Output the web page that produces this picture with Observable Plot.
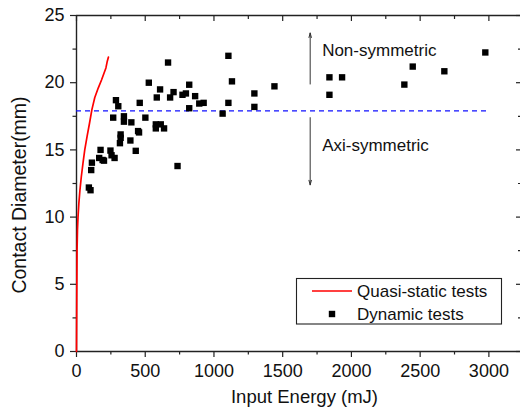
<!DOCTYPE html>
<html><head><meta charset="utf-8">
<script src="https://cdn.jsdelivr.net/npm/d3@7"></script>
<script src="https://cdn.jsdelivr.net/npm/@observablehq/plot@0.6"></script>
<style>
body{margin:0;background:#fff;}
svg{font-family:"Liberation Sans",Arial,sans-serif;}
</style>
</head><body><div id="chart"></div>
<script>
// Quasi-static test curve (Input Energy mJ, Contact Diameter mm)
const quasiEnergy   = [0, 2, 4, 7, 11, 17, 25, 35, 47, 60, 77, 95, 112, 133, 158, 182, 200, 214, 224, 232];
const quasiDiameter = [0, 4, 7.5, 9, 10, 11, 12, 13, 14, 15, 16, 17, 18, 18.9, 19.6, 20.2, 20.7, 21.1, 21.6, 21.9];

// Dynamic tests (scatter)
const dynEnergy = [90, 102, 107, 112, 175, 165, 190, 200, 247, 255, 277, 267, 287, 304, 321, 321, 316, 345, 345, 399,
  392, 431, 448, 455, 460, 501, 526, 608, 584, 577, 577, 613, 637, 666, 681, 706, 735, 771, 796, 820,
  820, 863, 893, 925, 1063, 1105, 1105, 1131, 1294, 1294, 1440, 1840, 1932, 1840, 2385, 2446, 2676, 2974];
const dynDiameter = [12.2, 12.0, 13.5, 14.05, 15.0, 14.4, 14.25, 14.2, 14.95, 14.6, 14.4, 17.4, 18.7, 18.25, 16.15, 15.9, 15.5, 17.5, 17.1, 17.05,
  15.7, 14.93, 16.4, 16.3, 18.5, 17.4, 20.0, 19.5, 18.9, 16.9, 16.6, 16.9, 16.6, 21.5, 18.9, 19.3, 13.8, 19.1, 19.2, 19.85,
  18.1, 19.0, 18.45, 18.5, 17.7, 22.0, 18.5, 20.1, 19.2, 18.2, 19.73, 20.4, 20.4, 19.1, 19.86, 21.2, 20.85, 22.25];

const thresholdDiameter = 17.9;
const thresholdEnergyEnd = 3000;

const xTicks = [0, 500, 1000, 1500, 2000, 2500, 3000];
const xMinorTicks = [250, 750, 1250, 1750, 2250, 2750];
const yTicks = [0, 5, 10, 15, 20, 25];
const yMinorTicks = [2.5, 7.5, 12.5, 17.5, 22.5];

const seriesNames = ["Quasi-static tests", "Dynamic tests"];
const regionLabels = ["Non-symmetric", "Axi-symmetric"];
const xTitle = "Input Energy (mJ)";
const yTitle = "Contact Diameter(mm)";

const quasi = quasiEnergy.map((e, i) => ({e, d: quasiDiameter[i]}));
const dyn = dynEnergy.map((e, i) => ({e, d: dynDiameter[i]}));

const ink = "#222";
const FS = 17;
const TFS = 18;
const noLabel = () => "";

const chart = Plot.plot({
  width: 520, height: 417,
  marginLeft: 76, marginRight: 0, marginTop: 15, marginBottom: 66,
  style: {fontFamily: "Liberation Sans, Arial, sans-serif", fontSize: FS + "px", color: "#111", background: "white", overflow: "visible"},
  x: {domain: [0, 3230]},
  y: {domain: [0, 25]},
  marks: [
    // axes
    Plot.axisX(xTicks, {anchor: "bottom", tickSize: 6, tickPadding: 7, label: null, tickFormat: d => String(d), stroke: ink, strokeWidth: 1.2, fontSize: TFS}),
    Plot.axisX(xMinorTicks, {anchor: "bottom", tickSize: 3.5, label: null, tickFormat: noLabel, stroke: ink, strokeWidth: 1.2}),
    Plot.axisX(xTicks, {anchor: "top", tickSize: -5, label: null, tickFormat: noLabel, stroke: ink, strokeWidth: 1.2}),
    Plot.axisX(xMinorTicks, {anchor: "top", tickSize: -3, label: null, tickFormat: noLabel, stroke: ink, strokeWidth: 1.2}),
    Plot.axisY(yTicks, {anchor: "left", tickSize: 6, tickPadding: 6, label: null, tickFormat: d => String(d), stroke: ink, strokeWidth: 1.2, fontSize: TFS}),
    Plot.axisY(yMinorTicks, {anchor: "left", tickSize: 3.5, label: null, tickFormat: noLabel, stroke: ink, strokeWidth: 1.2}),
    Plot.axisY(yTicks, {anchor: "right", tickSize: -5, label: null, tickFormat: noLabel, stroke: ink, strokeWidth: 1.2}),
    Plot.axisY(yMinorTicks, {anchor: "right", tickSize: -3, label: null, tickFormat: noLabel, stroke: ink, strokeWidth: 1.2}),
    Plot.ruleY([0, 25], {stroke: ink, strokeWidth: 1.4}),
    Plot.ruleX([0], {stroke: ink, strokeWidth: 1.4}),
    // threshold
    Plot.ruleY([thresholdDiameter], {x1: 0, x2: thresholdEnergyEnd, stroke: "#1010ff", strokeWidth: 1.3, strokeDasharray: "5,4"}),
    // region arrows & labels
    Plot.arrow([0], {x1: 1700, y1: 19.9, x2: 1700, y2: 23.7, stroke: "#333", strokeWidth: 1, headLength: 7, headAngle: 30}),
    Plot.arrow([0], {x1: 1700, y1: 17.4, x2: 1700, y2: 12.4, stroke: "#333", strokeWidth: 1, headLength: 7, headAngle: 30}),
    Plot.text([regionLabels[0]], {x: 1787, y: 22.38, textAnchor: "start", fontSize: FS, fill: "#111"}),
    Plot.text([regionLabels[1]], {x: 1787, y: 15.36, textAnchor: "start", fontSize: FS, fill: "#111"}),
    // data
    Plot.line(quasi, {x: "e", y: "d", stroke: "#ff0000", strokeWidth: 1.7}),
    Plot.dot(dyn, {x: "e", y: "d", symbol: "square", r: 3.6, fill: "#000", stroke: "none"}),
    // x title
    Plot.text([xTitle], {frameAnchor: "bottom", dx: 6, dy: 51, fontSize: 18.5, fill: "#111"})
  ]
});

const svg = d3.select(chart);
// y title
svg.append("text")
  .attr("transform", "translate(19,195) rotate(-90)")
  .attr("text-anchor", "middle").attr("dy", "0.35em")
  .attr("font-size", 19.5).attr("fill", "#111")
  .text(yTitle);

// Legend box
const lg = svg.append("g").attr("font-size", FS).attr("fill", "#111").attr("text-anchor", "start");
lg.append("rect").attr("x", 296.5).attr("y", 278.5).attr("width", 205).attr("height", 45.5)
  .attr("fill", "white").attr("stroke", ink).attr("stroke-width", 1.1);
lg.append("line").attr("x1", 312).attr("x2", 352).attr("y1", 291).attr("y2", 291)
  .attr("stroke", "#ff0000").attr("stroke-width", 1.7);
lg.append("rect").attr("x", 328.8).attr("y", 310.8).attr("width", 6.4).attr("height", 6.4).attr("fill", "#000");
lg.append("text").attr("x", 357).attr("y", 291).attr("dy", "0.35em").text(seriesNames[0]);
lg.append("text").attr("x", 357).attr("y", 314).attr("dy", "0.35em").text(seriesNames[1]);

document.getElementById("chart").appendChild(chart);
</script>
</body></html>
